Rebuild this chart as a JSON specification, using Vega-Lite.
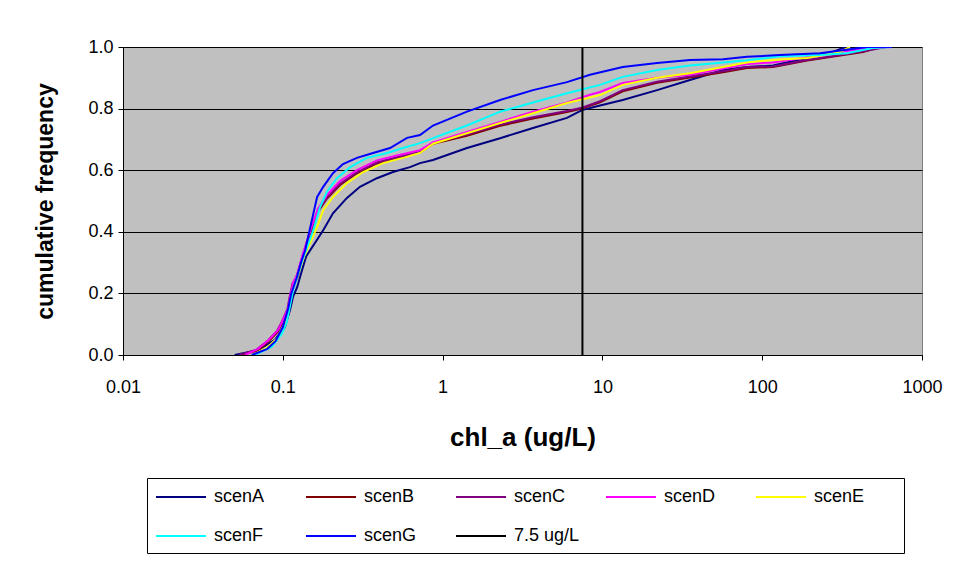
{
  "$schema": "https://vega.github.io/schema/vega-lite/v6.json",
  "width": 799,
  "height": 308,
  "autosize": {"type": "none"},
  "padding": {"left": 123, "top": 47, "right": 36, "bottom": 208},
  "background": "white",
  "config": {
    "view": {"fill": "#C0C0C0", "stroke": "#808080", "strokeWidth": 1},
    "font": "Liberation Sans"
  },
  "data": {"values": [
    {"s":"scenA","x":0.050,"y":0},{"s":"scenA","x":0.070,"y":0.016},{"s":"scenA","x":0.089,"y":0.049},{"s":"scenA","x":0.103,"y":0.09},{"s":"scenA","x":0.111,"y":0.146},{"s":"scenA","x":0.116,"y":0.19},{"s":"scenA","x":0.123,"y":0.22},{"s":"scenA","x":0.132,"y":0.276},{"s":"scenA","x":0.140,"y":0.32},{"s":"scenA","x":0.179,"y":0.405},{"s":"scenA","x":0.206,"y":0.46},{"s":"scenA","x":0.252,"y":0.51},{"s":"scenA","x":0.304,"y":0.546},{"s":"scenA","x":0.388,"y":0.574},{"s":"scenA","x":0.489,"y":0.594},{"s":"scenA","x":0.625,"y":0.61},{"s":"scenA","x":0.722,"y":0.623},{"s":"scenA","x":0.871,"y":0.633},{"s":"scenA","x":1.42,"y":0.672},{"s":"scenA","x":2.29,"y":0.704},{"s":"scenA","x":3.68,"y":0.737},{"s":"scenA","x":6.0,"y":0.77},{"s":"scenA","x":7.45,"y":0.795},{"s":"scenA","x":9.66,"y":0.81},{"s":"scenA","x":13.4,"y":0.828},{"s":"scenA","x":22,"y":0.86},{"s":"scenA","x":35.3,"y":0.893},{"s":"scenA","x":56.9,"y":0.925},{"s":"scenA","x":80.3,"y":0.935},{"s":"scenA","x":117,"y":0.94},{"s":"scenA","x":191,"y":0.964},{"s":"scenA","x":277,"y":0.984},{"s":"scenA","x":321,"y":0.997},{"s":"scenA","x":360,"y":1.0},
    {"s":"scenB","x":0.055,"y":0},{"s":"scenB","x":0.070,"y":0.015},{"s":"scenB","x":0.081,"y":0.043},{"s":"scenB","x":0.093,"y":0.075},{"s":"scenB","x":0.100,"y":0.107},{"s":"scenB","x":0.108,"y":0.146},{"s":"scenB","x":0.111,"y":0.18},{"s":"scenB","x":0.116,"y":0.23},{"s":"scenB","x":0.123,"y":0.25},{"s":"scenB","x":0.134,"y":0.32},{"s":"scenB","x":0.150,"y":0.40},{"s":"scenB","x":0.166,"y":0.465},{"s":"scenB","x":0.189,"y":0.508},{"s":"scenB","x":0.228,"y":0.552},{"s":"scenB","x":0.291,"y":0.59},{"s":"scenB","x":0.388,"y":0.622},{"s":"scenB","x":0.518,"y":0.64},{"s":"scenB","x":0.722,"y":0.657},{"s":"scenB","x":0.871,"y":0.686},{"s":"scenB","x":1.42,"y":0.712},{"s":"scenB","x":2.29,"y":0.744},{"s":"scenB","x":3.68,"y":0.768},{"s":"scenB","x":6.0,"y":0.789},{"s":"scenB","x":7.45,"y":0.80},{"s":"scenB","x":9.66,"y":0.82},{"s":"scenB","x":13.4,"y":0.856},{"s":"scenB","x":22,"y":0.884},{"s":"scenB","x":35.3,"y":0.901},{"s":"scenB","x":56.9,"y":0.918},{"s":"scenB","x":80.3,"y":0.932},{"s":"scenB","x":117,"y":0.935},{"s":"scenB","x":191,"y":0.956},{"s":"scenB","x":307,"y":0.972},{"s":"scenB","x":428,"y":0.984},{"s":"scenB","x":546,"y":1.0},
    {"s":"scenC","x":0.053,"y":0},{"s":"scenC","x":0.068,"y":0.016},{"s":"scenC","x":0.080,"y":0.045},{"s":"scenC","x":0.092,"y":0.078},{"s":"scenC","x":0.099,"y":0.11},{"s":"scenC","x":0.107,"y":0.15},{"s":"scenC","x":0.110,"y":0.185},{"s":"scenC","x":0.115,"y":0.232},{"s":"scenC","x":0.122,"y":0.255},{"s":"scenC","x":0.133,"y":0.322},{"s":"scenC","x":0.149,"y":0.405},{"s":"scenC","x":0.166,"y":0.47},{"s":"scenC","x":0.189,"y":0.512},{"s":"scenC","x":0.228,"y":0.556},{"s":"scenC","x":0.291,"y":0.593},{"s":"scenC","x":0.388,"y":0.625},{"s":"scenC","x":0.518,"y":0.642},{"s":"scenC","x":0.722,"y":0.659},{"s":"scenC","x":0.871,"y":0.689},{"s":"scenC","x":1.42,"y":0.716},{"s":"scenC","x":2.29,"y":0.748},{"s":"scenC","x":3.68,"y":0.772},{"s":"scenC","x":6.0,"y":0.792},{"s":"scenC","x":7.45,"y":0.803},{"s":"scenC","x":9.66,"y":0.824},{"s":"scenC","x":13.4,"y":0.86},{"s":"scenC","x":22,"y":0.887},{"s":"scenC","x":35.3,"y":0.904},{"s":"scenC","x":56.9,"y":0.921},{"s":"scenC","x":80.3,"y":0.935},{"s":"scenC","x":117,"y":0.937},{"s":"scenC","x":191,"y":0.958},{"s":"scenC","x":307,"y":0.974},{"s":"scenC","x":428,"y":0.986},{"s":"scenC","x":600,"y":1.0},
    {"s":"scenD","x":0.058,"y":0},{"s":"scenD","x":0.070,"y":0.02},{"s":"scenD","x":0.081,"y":0.047},{"s":"scenD","x":0.093,"y":0.08},{"s":"scenD","x":0.100,"y":0.112},{"s":"scenD","x":0.108,"y":0.152},{"s":"scenD","x":0.111,"y":0.19},{"s":"scenD","x":0.116,"y":0.235},{"s":"scenD","x":0.123,"y":0.262},{"s":"scenD","x":0.134,"y":0.33},{"s":"scenD","x":0.150,"y":0.41},{"s":"scenD","x":0.166,"y":0.475},{"s":"scenD","x":0.189,"y":0.52},{"s":"scenD","x":0.228,"y":0.565},{"s":"scenD","x":0.291,"y":0.60},{"s":"scenD","x":0.388,"y":0.632},{"s":"scenD","x":0.518,"y":0.648},{"s":"scenD","x":0.722,"y":0.665},{"s":"scenD","x":0.871,"y":0.69},{"s":"scenD","x":1.42,"y":0.724},{"s":"scenD","x":2.29,"y":0.757},{"s":"scenD","x":3.68,"y":0.79},{"s":"scenD","x":6.0,"y":0.82},{"s":"scenD","x":8.36,"y":0.845},{"s":"scenD","x":9.66,"y":0.854},{"s":"scenD","x":13.4,"y":0.883},{"s":"scenD","x":22,"y":0.9},{"s":"scenD","x":35.3,"y":0.91},{"s":"scenD","x":56.9,"y":0.93},{"s":"scenD","x":80.3,"y":0.945},{"s":"scenD","x":117,"y":0.95},{"s":"scenD","x":240,"y":0.974},{"s":"scenD","x":307,"y":0.984},{"s":"scenD","x":453,"y":0.997},{"s":"scenD","x":649,"y":1.0},
    {"s":"scenE","x":0.065,"y":0},{"s":"scenE","x":0.080,"y":0.025},{"s":"scenE","x":0.095,"y":0.06},{"s":"scenE","x":0.104,"y":0.1},{"s":"scenE","x":0.110,"y":0.16},{"s":"scenE","x":0.115,"y":0.21},{"s":"scenE","x":0.124,"y":0.26},{"s":"scenE","x":0.136,"y":0.32},{"s":"scenE","x":0.150,"y":0.37},{"s":"scenE","x":0.164,"y":0.416},{"s":"scenE","x":0.179,"y":0.47},{"s":"scenE","x":0.206,"y":0.513},{"s":"scenE","x":0.252,"y":0.558},{"s":"scenE","x":0.318,"y":0.594},{"s":"scenE","x":0.424,"y":0.623},{"s":"scenE","x":0.565,"y":0.64},{"s":"scenE","x":0.722,"y":0.656},{"s":"scenE","x":0.871,"y":0.686},{"s":"scenE","x":1.42,"y":0.72},{"s":"scenE","x":2.29,"y":0.753},{"s":"scenE","x":3.68,"y":0.785},{"s":"scenE","x":6.0,"y":0.818},{"s":"scenE","x":9.66,"y":0.844},{"s":"scenE","x":13.4,"y":0.877},{"s":"scenE","x":22,"y":0.9},{"s":"scenE","x":35.3,"y":0.915},{"s":"scenE","x":56.9,"y":0.935},{"s":"scenE","x":80.3,"y":0.95},{"s":"scenE","x":117,"y":0.958},{"s":"scenE","x":191,"y":0.964},{"s":"scenE","x":307,"y":0.984},{"s":"scenE","x":354,"y":1.0},
    {"s":"scenF","x":0.067,"y":0},{"s":"scenF","x":0.0855,"y":0.027},{"s":"scenF","x":0.0989,"y":0.07},{"s":"scenF","x":0.106,"y":0.107},{"s":"scenF","x":0.111,"y":0.16},{"s":"scenF","x":0.116,"y":0.21},{"s":"scenF","x":0.124,"y":0.26},{"s":"scenF","x":0.133,"y":0.31},{"s":"scenF","x":0.142,"y":0.35},{"s":"scenF","x":0.155,"y":0.405},{"s":"scenF","x":0.171,"y":0.48},{"s":"scenF","x":0.189,"y":0.53},{"s":"scenF","x":0.218,"y":0.574},{"s":"scenF","x":0.264,"y":0.61},{"s":"scenF","x":0.336,"y":0.64},{"s":"scenF","x":0.449,"y":0.656},{"s":"scenF","x":0.565,"y":0.672},{"s":"scenF","x":0.722,"y":0.688},{"s":"scenF","x":0.871,"y":0.704},{"s":"scenF","x":1.42,"y":0.745},{"s":"scenF","x":2.29,"y":0.79},{"s":"scenF","x":3.68,"y":0.82},{"s":"scenF","x":6.0,"y":0.85},{"s":"scenF","x":9.66,"y":0.877},{"s":"scenF","x":13.4,"y":0.903},{"s":"scenF","x":22,"y":0.925},{"s":"scenF","x":35.3,"y":0.94},{"s":"scenF","x":56.9,"y":0.95},{"s":"scenF","x":80.3,"y":0.957},{"s":"scenF","x":129,"y":0.97},{"s":"scenF","x":230,"y":0.974},{"s":"scenF","x":340,"y":0.98},{"s":"scenF","x":493,"y":0.997},{"s":"scenF","x":649,"y":1.0},
    {"s":"scenG","x":0.064,"y":0},{"s":"scenG","x":0.080,"y":0.02},{"s":"scenG","x":0.090,"y":0.045},{"s":"scenG","x":0.100,"y":0.09},{"s":"scenG","x":0.108,"y":0.15},{"s":"scenG","x":0.113,"y":0.2},{"s":"scenG","x":0.122,"y":0.25},{"s":"scenG","x":0.130,"y":0.3},{"s":"scenG","x":0.138,"y":0.34},{"s":"scenG","x":0.152,"y":0.438},{"s":"scenG","x":0.164,"y":0.513},{"s":"scenG","x":0.179,"y":0.546},{"s":"scenG","x":0.206,"y":0.59},{"s":"scenG","x":0.238,"y":0.62},{"s":"scenG","x":0.291,"y":0.64},{"s":"scenG","x":0.367,"y":0.656},{"s":"scenG","x":0.469,"y":0.672},{"s":"scenG","x":0.599,"y":0.705},{"s":"scenG","x":0.722,"y":0.714},{"s":"scenG","x":0.871,"y":0.745},{"s":"scenG","x":1.42,"y":0.79},{"s":"scenG","x":2.29,"y":0.828},{"s":"scenG","x":3.68,"y":0.86},{"s":"scenG","x":6.0,"y":0.886},{"s":"scenG","x":8.36,"y":0.91},{"s":"scenG","x":13.4,"y":0.935},{"s":"scenG","x":22,"y":0.948},{"s":"scenG","x":35.3,"y":0.958},{"s":"scenG","x":56.9,"y":0.96},{"s":"scenG","x":80.3,"y":0.968},{"s":"scenG","x":129,"y":0.974},{"s":"scenG","x":230,"y":0.98},{"s":"scenG","x":453,"y":1.0},{"s":"scenG","x":649,"y":1.0},
    {"s":"7.5 ug/L","x":7.5,"y":0},{"s":"7.5 ug/L","x":7.5,"y":1}
  ]},
  "mark": {"type": "line", "strokeWidth": 2, "clip": true},
  "encoding": {
    "x": {
      "field": "x", "type": "quantitative",
      "scale": {"type": "log", "domain": [0.01, 1000], "nice": false},
      "axis": {
        "title": "chl_a (ug/L)", "values": [0.01, 0.1, 1, 10, 100, 1000], "format": "~g",
        "grid": false, "tickSize": 5, "tickColor": "black", "domainColor": "black",
        "labelFont": "Liberation Sans", "labelFontSize": 18, "labelColor": "black", "labelPadding": 18,
        "labelFlush": false, "labelOverlap": false,
        "titleFont": "Liberation Sans", "titleFontSize": 26, "titleFontWeight": "bold", "titleColor": "black", "titlePadding": 28
      }
    },
    "y": {
      "field": "y", "type": "quantitative",
      "scale": {"domain": [0, 1], "nice": false},
      "axis": {
        "title": "cumulative frequency", "values": [0, 0.2, 0.4, 0.6, 0.8, 1.0], "format": ".1f",
        "grid": true, "gridColor": "black", "gridWidth": 1, "gridOpacity": 1,
        "tickSize": 5, "tickColor": "black", "domainColor": "black",
        "labelFont": "Liberation Sans", "labelFontSize": 18, "labelColor": "black", "labelPadding": 5,
        "labelFlush": false, "labelOverlap": false,
        "titleFont": "Liberation Sans", "titleFontSize": 23, "titleFontWeight": "bold", "titleColor": "black", "titlePadding": 30
      }
    },
    "color": {
      "field": "s", "type": "nominal",
      "scale": {
        "domain": ["scenA", "scenB", "scenC", "scenD", "scenE", "scenF", "scenG", "7.5 ug/L"],
        "range": ["#000080", "#800000", "#800080", "#FF00FF", "#FFFF00", "#00FFFF", "#0000FF", "#000000"]
      },
      "legend": {
        "orient": "none", "legendX": 24, "legendY": 431, "direction": "horizontal", "columns": 5,
        "title": "\u00a0", "titleOrient": "right", "titleAngle": 0, "titleFontSize": 10, "titleBaseline": "top", "titlePadding": 32, "titleColor": "white",
        "symbolType": "M-1,0H4", "symbolSize": 400, "symbolStrokeWidth": 2,
        "labelFont": "Liberation Sans", "labelFontSize": 18, "labelColor": "black", "labelOffset": 37,
        "strokeColor": "black", "fillColor": "white", "padding": 8, "rowPadding": 19, "columnPadding": 22,
        "gridAlign": "all", "labelLimit": 200
      }
    }
  }
}
